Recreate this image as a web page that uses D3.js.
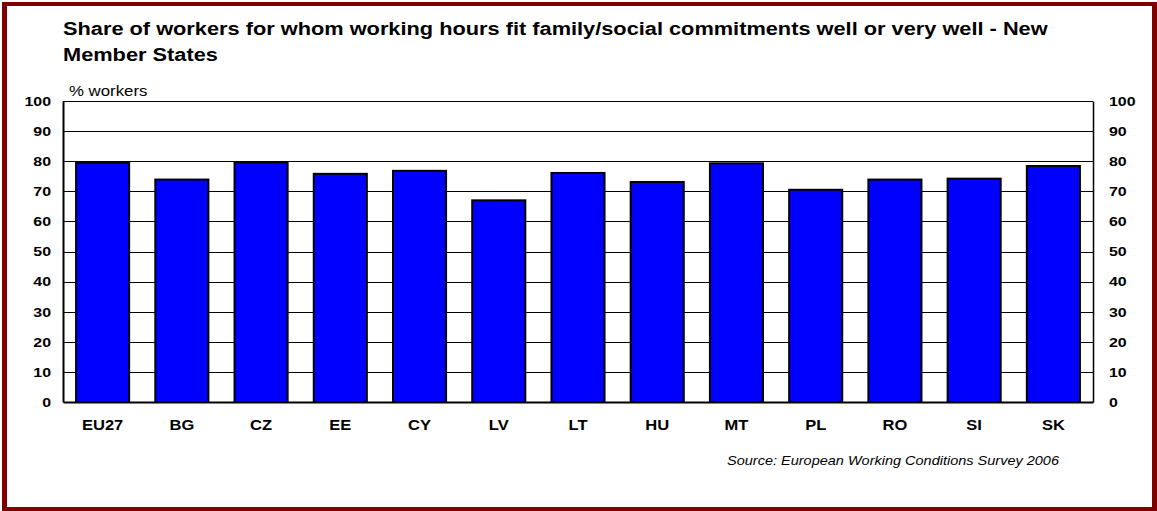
<!DOCTYPE html>
<html>
<head>
<meta charset="utf-8">
<script src="https://cdn.jsdelivr.net/npm/d3@7"></script>
<style>
  html, body { margin: 0; padding: 0; background: #fff; }
  svg { display: block; }
  text { font-family: "Liberation Sans", Arial, sans-serif; }
</style>
</head>
<body>
<svg id="chart" width="1157" height="511"></svg>
<script>
// Countries shown along the x axis
const categories = ["EU27", "BG", "CZ", "EE", "CY", "LV", "LT", "HU", "MT", "PL", "RO", "SI", "SK"];
// Share of workers (%) whose working hours fit family/social commitments well or very well
const shareValues = [79.5, 73.9, 79.6, 75.8, 76.8, 67.0, 76.1, 73.1, 79.3, 70.5, 73.9, 74.2, 78.4];
// Tick values for both value axes
const yTicks = [0, 10, 20, 30, 40, 50, 60, 70, 80, 90, 100];

const titleLines = [
  "Share of workers for whom working hours fit family/social commitments well or very well - New",
  "Member States"
];
const axisTitle = "% workers";
const sourceNote = "Source: European Working Conditions Survey 2006";

const svg = d3.select("#chart");
const W = 1157, H = 511;
const plot = { left: 63, right: 1093, top: 101, bottom: 402 };
// The figure's lettering is set slightly wide
const SX = 1.21;

// Widen a text element horizontally around its own anchor point
function widen(sel, sx) {
  sel.each(function () {
    const t = d3.select(this);
    const ax = +t.attr("x") || 0;
    t.attr("x", 0).attr("transform", `translate(${ax},0) scale(${sx},1)`);
  });
}

// Dark red frame around the whole figure
svg.append("rect").attr("x", 2).attr("y", 2).attr("width", W - 2).attr("height", H - 2)
  .attr("fill", "#800000");
svg.append("rect").attr("x", 7).attr("y", 6).attr("width", 1145).attr("height", 501)
  .attr("fill", "#ffffff");

const x = d3.scaleBand()
  .domain(categories)
  .range([plot.left, plot.right])
  .paddingInner(0.33)
  .paddingOuter(0.165);

const y = d3.scaleLinear()
  .domain([0, 100])
  .range([plot.bottom, plot.top]);

// Title
const titleG = svg.append("g").attr("transform", `translate(63,35) scale(${SX},1)`);
const title = titleG.append("text")
  .attr("x", 0).attr("y", 0)
  .attr("font-size", 18).attr("font-weight", "bold").attr("fill", "#000");
titleLines.forEach((line, i) => {
  title.append("tspan").attr("x", 0).attr("dy", i === 0 ? 0 : 26).text(line);
});

// Horizontal gridlines
svg.append("g")
  .selectAll("line")
  .data(yTicks.filter(d => d > 0))
  .join("line")
  .attr("x1", plot.left).attr("x2", plot.right)
  .attr("y1", d => Math.round(y(d)) + 0.5).attr("y2", d => Math.round(y(d)) + 0.5)
  .attr("stroke", "#000").attr("stroke-width", 1);

// Bars
svg.append("g")
  .selectAll("rect")
  .data(categories.map((c, i) => ({ c, v: shareValues[i] })))
  .join("rect")
  .attr("x", d => x(d.c))
  .attr("y", d => y(d.v))
  .attr("width", x.bandwidth())
  .attr("height", d => y(0) - y(d.v))
  .attr("fill", "#0000ff")
  .attr("stroke", "#000")
  .attr("stroke-width", 2);

// Left value axis
const leftAxis = svg.append("g")
  .attr("transform", `translate(${plot.left},0)`)
  .call(d3.axisLeft(y).tickValues(yTicks).tickSize(0).tickPadding(12));
leftAxis.select(".domain").attr("stroke", "#000").attr("stroke-width", 2);

// Right value axis
const rightAxis = svg.append("g")
  .attr("transform", `translate(${plot.right},0)`)
  .call(d3.axisRight(y).tickValues(yTicks).tickSize(0).tickPadding(16));
rightAxis.select(".domain").attr("stroke", "#000").attr("stroke-width", 1.5);

[leftAxis, rightAxis].forEach(a => {
  a.selectAll("text")
    .attr("font-size", 13.5).attr("font-weight", "bold")
    .attr("font-family", "'Liberation Sans', Arial, sans-serif")
    .attr("fill", "#000")
    .call(widen, 1.18);
});

// Category axis along the baseline
const bottomAxis = svg.append("g")
  .attr("transform", `translate(0,${plot.bottom})`)
  .call(d3.axisBottom(x).tickSize(0).tickPadding(18));
bottomAxis.select(".domain").attr("stroke", "#000").attr("stroke-width", 2);
bottomAxis.selectAll("text")
  .attr("font-size", 14).attr("font-weight", "bold")
  .attr("font-family", "'Liberation Sans', Arial, sans-serif")
  .attr("fill", "#000")
  .call(widen, 1.18);

// Unit label above the left axis
svg.append("text")
  .attr("x", 69).attr("y", 96)
  .attr("font-size", 14).attr("fill", "#000")
  .text(axisTitle)
  .call(widen, 1.2);

// Source note
svg.append("text")
  .attr("x", 1059).attr("y", 465)
  .attr("text-anchor", "end")
  .attr("font-size", 12).attr("font-style", "italic").attr("fill", "#000")
  .text(sourceNote)
  .call(widen, 1.21);
</script>
</body>
</html>
